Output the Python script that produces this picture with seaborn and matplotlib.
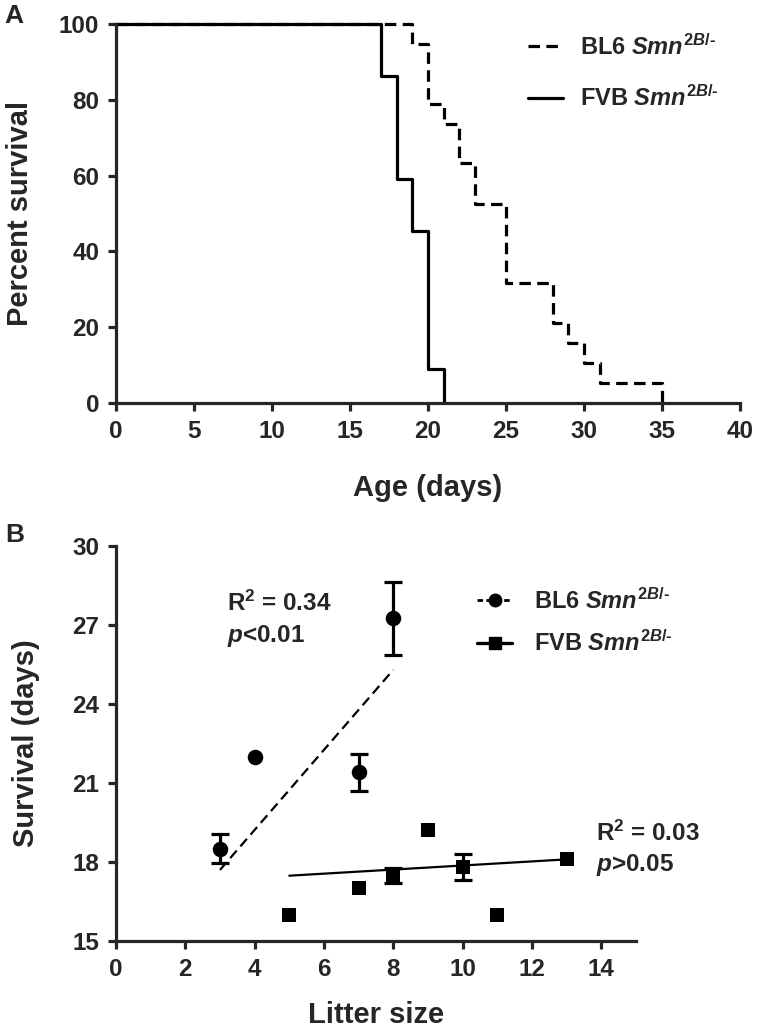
import matplotlib
matplotlib.use("Agg")
import numpy as np
import pandas as pd
import matplotlib.pyplot as plt
import seaborn as sns
from matplotlib.lines import Line2D

# panel A - Kaplan-Meier steps (age in days, percent surviving)
bl6_days = [0, 19, 20, 21, 22, 23, 25, 28, 29, 30, 31, 35]
bl6_surv = [100, 94.7, 78.9, 73.7, 63.2, 52.6, 31.6, 21.1, 15.8, 10.5, 5.3, 0]
fvb_days = [0, 17, 18, 19, 20, 21]
fvb_surv = [100, 86.4, 59.1, 45.5, 9.1, 0]

# panel B - survival vs litter size (mean, sem)
bl6_litter = [3, 4, 7, 8]
bl6_mean = [18.5, 22.0, 21.4, 27.25]
bl6_sem = [0.55, 0, 0.7, 1.4]
fvb_litter = [5, 7, 8, 9, 10, 11, 13]
fvb_mean = [16.0, 17.0, 17.5, 19.2, 17.8, 16.0, 18.1]
fvb_sem = [0, 0, 0.28, 0, 0.5, 0, 0]
# regression lines
bl6_fit_x = [3, 8]
bl6_fit_y = [17.7, 25.3]
fvb_fit_x = [5, 13]
fvb_fit_y = [17.48, 18.1]

bl6_lab = r"BL6 $\mathit{Smn}^{\mathit{2B}\text{/-}}$"
fvb_lab = r"FVB $\mathit{Smn}^{\mathit{2B}\text{/-}}$"

sns.set_style("ticks")
plt.rcParams["font.family"] = ["Liberation Sans", "DejaVu Sans"]
plt.rcParams["font.weight"] = "bold"
plt.rcParams["axes.labelweight"] = "bold"
plt.rcParams["mathtext.fontset"] = "custom"
plt.rcParams["mathtext.rm"] = "Liberation Sans:bold"
plt.rcParams["mathtext.it"] = "Liberation Sans:italic:bold"
plt.rcParams["mathtext.bf"] = "Liberation Sans:bold"
plt.rcParams["axes.unicode_minus"] = False

W, H = 760, 1034
fig = plt.figure(figsize=(W / 100, H / 100), dpi=100)
axA = fig.add_axes([116 / W, 1 - 403 / H, (740 - 116) / W, (403 - 24) / H])
axB = fig.add_axes([116 / W, 1 - 941 / H, (636 - 116) / W, (941 - 546) / H])

lw = 2.3
for ax in (axA, axB):
    sns.despine(ax=ax)
    for s in ("left", "bottom"):
        ax.spines[s].set_linewidth(lw)
    ax.tick_params(width=lw, length=6, labelsize=17.5, direction="out", pad=6)

# ---- A
sns.lineplot(x=bl6_days, y=bl6_surv, ax=axA, drawstyle="steps-post", color="black",
             lw=lw, linestyle=(0, (3.6, 2)), label=bl6_lab, clip_on=False)
sns.lineplot(x=fvb_days, y=fvb_surv, ax=axA, drawstyle="steps-post", color="black",
             lw=lw, label=fvb_lab, clip_on=False)
axA.set_xlim(0, 40)
axA.set_ylim(0, 100)
axA.set_xticks(range(0, 41, 5))
axA.set_yticks(range(0, 101, 20))
axA.set_xlabel("Age (days)", fontsize=21)
axA.set_ylabel("Percent survival", fontsize=21)
axA.xaxis.set_label_coords(0.5, (403 - 488) / 379)
axA.xaxis.label.set_va("center")
axA.yaxis.set_label_coords((20 - 116) / 624, 0.5)
axA.yaxis.label.set_va("center")
axA.legend(frameon=False, loc="upper left", fontsize=17, handlelength=1.5,
           handletextpad=0.7, labelspacing=1.1, borderpad=0, borderaxespad=0,
           bbox_to_anchor=(528 / W, 1 - 34 / H), bbox_transform=fig.transFigure)

# ---- B
sns.lineplot(x=bl6_fit_x, y=bl6_fit_y, ax=axB, color="black", lw=1.6,
             linestyle=(0, (4.5, 2.5)))
sns.lineplot(x=fvb_fit_x, y=fvb_fit_y, ax=axB, color="black", lw=1.6)

bl6 = pd.DataFrame({"x": bl6_litter, "y": bl6_mean, "e": bl6_sem})
fvb = pd.DataFrame({"x": fvb_litter, "y": fvb_mean, "e": fvb_sem})
for d in (bl6, fvb):
    e = d[d.e > 0]
    axB.errorbar(e.x, e.y, yerr=e.e, fmt="none", ecolor="black", elinewidth=lw,
                 capsize=6.5, capthick=lw, zorder=3)
sns.scatterplot(data=bl6, x="x", y="y", ax=axB, marker="o", s=125, color="black",
                linewidth=0, zorder=4)
sns.scatterplot(data=fvb, x="x", y="y", ax=axB, marker="s", s=95, color="black",
                linewidth=0, zorder=4)

axB.set_xlim(0, 15)
axB.set_ylim(15, 30)
axB.set_xticks(range(0, 15, 2))
axB.set_yticks(range(15, 31, 3))
axB.set_xlabel("Litter size", fontsize=21)
axB.set_ylabel("Survival (days)", fontsize=21)
axB.xaxis.set_label_coords(0.5, (941 - 1015) / 395)
axB.xaxis.label.set_va("center")
axB.yaxis.set_label_coords((26 - 116) / 520, 0.5)
axB.yaxis.label.set_va("center")

axB.text(3.2, 27.83, r"R$^{2}$ = 0.34", fontsize=17.5, va="center")
axB.text(3.2, 26.6, "$p$<0.01", fontsize=17.5, va="center")
axB.text(13.86, 19.09, r"R$^{2}$ = 0.03", fontsize=17.5, va="center", clip_on=False)
axB.text(13.86, 17.87, "$p$>0.05", fontsize=17.5, va="center", clip_on=False)

hB = [Line2D([], [], color="black", lw=2, linestyle=(0, (2, 1.2)), marker="o", ms=9),
      Line2D([], [], color="black", lw=2.4, marker="s", ms=8.5)]
axB.legend(hB, [bl6_lab, fvb_lab], frameon=False, loc="upper left", fontsize=17,
           handlelength=1.5, handletextpad=0.9, labelspacing=0.7, borderpad=0,
           borderaxespad=0, bbox_to_anchor=(477 / W, 1 - 588 / H),
           bbox_transform=fig.transFigure)

fig.text(14 / W, 1 - 16 / H, "A", fontsize=19, ha="center", va="center")
fig.text(15 / W, 1 - 535 / H, "B", fontsize=19, ha="center", va="center")

fig.savefig("out.png", dpi=100)
